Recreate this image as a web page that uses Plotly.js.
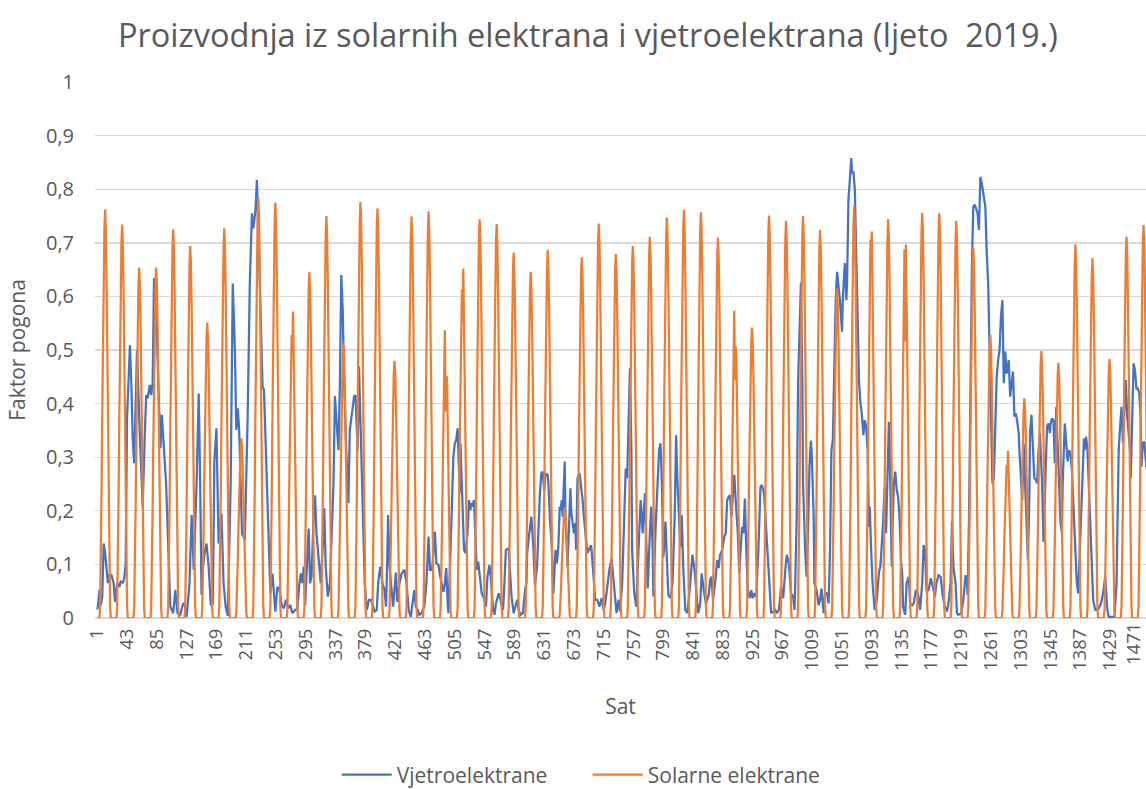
<!DOCTYPE html>
<html>
<head>
<meta charset="utf-8">
<script src="https://cdn.plot.ly/plotly-3.0.1.min.js"></script>
<style>html,body{margin:0;padding:0;background:#fff;}#chart{width:1146px;height:789px;}</style>
</head>
<body>
<div id="chart"></div>
<script>
// ---- Data ----
const xTickVals = [1,43,85,127,169,211,253,295,337,379,421,463,505,547,589,631,673,715,757,799,841,883,925,967,1009,1051,1093,1135,1177,1219,1261,1303,1345,1387,1429,1471];
const xTickText = ["1","43","85","127","169","211","253","295","337","379","421","463","505","547","589","631","673","715","757","799","841","883","925","967","1009","1051","1093","1135","1177","1219","1261","1303","1345","1387","1429","1471"];

// Wind (Vjetroelektrane): hour index and capacity factor at read turning points
const windHour = [1,2,4,6,8,10,12,14,16,18,21,24,26,29,32,34,37,39,41,43,45,47,49,51,53,55,57,60,63,65,68,70,72,75,77,79,81,84,87,89,90,92,95,98,102,104,108,111,114,118,122,124,127,131,134,137,141,144,146,148,150,152,155,158,161,164,166,169,172,176,179,182,185,189,192,195,197,199,201,205,209,213,216,219,221,224,226,228,231,234,236,239,242,245,248,252,255,258,261,264,267,270,273,276,280,283,286,288,290,292,294,297,299,301,303,306,308,310,314,316,319,321,323,326,329,331,334,336,338,341,343,345,347,349,352,355,357,360,363,365,368,370,373,376,378,381,384,387,390,392,395,397,400,403,406,408,409,411,413,416,418,422,424,427,430,434,437,440,443,446,448,450,453,455,458,462,465,468,470,473,477,479,482,484,487,489,491,493,495,496,499,502,503,505,507,509,510,512,513,515,518,520,523,525,527,528,530,532,534,536,538,541,543,546,549,551,554,556,559,561,563,567,569,573,575,577,581,583,585,588,590,593,595,598,601,604,606,607,610,613,616,618,621,623,625,627,629,631,633,636,637,639,642,644,647,649,651,653,654,656,657,660,661,664,666,668,669,671,673,675,676,678,681,683,685,687,690,692,694,697,698,700,703,706,709,712,715,717,720,723,726,728,730,733,736,738,741,744,746,748,750,752,754,755,758,761,764,767,768,770,773,775,777,780,782,784,785,788,791,793,795,797,799,800,802,804,806,809,812,815,817,819,822,823,825,827,830,833,837,840,843,846,848,851,853,856,859,863,865,867,869,872,875,877,879,882,885,887,889,891,893,895,898,899,901,904,906,909,910,912,914,916,918,921,923,925,927,930,933,936,938,941,943,946,948,951,954,957,959,962,965,968,971,973,976,979,982,984,985,987,989,991,993,995,996,999,1001,1003,1005,1007,1008,1011,1012,1015,1018,1020,1022,1025,1027,1030,1032,1034,1036,1038,1040,1042,1044,1046,1048,1051,1052,1054,1055,1057,1058,1060,1062,1064,1065,1067,1069,1071,1073,1075,1077,1079,1081,1083,1085,1087,1089,1090,1092,1094,1097,1100,1103,1105,1108,1111,1113,1115,1117,1119,1121,1122,1124,1126,1128,1130,1132,1134,1136,1137,1140,1142,1145,1147,1150,1152,1155,1158,1161,1164,1166,1168,1170,1173,1176,1179,1182,1184,1187,1190,1193,1196,1199,1201,1204,1206,1208,1211,1213,1215,1219,1222,1225,1227,1228,1230,1232,1234,1236,1238,1240,1242,1244,1246,1248,1250,1251,1253,1255,1257,1259,1261,1263,1265,1267,1269,1271,1273,1275,1277,1279,1281,1283,1284,1286,1288,1290,1292,1294,1296,1298,1300,1301,1303,1305,1307,1309,1311,1313,1315,1316,1318,1320,1322,1324,1326,1328,1330,1331,1333,1335,1337,1340,1342,1344,1345,1347,1349,1351,1353,1355,1357,1359,1361,1362,1365,1367,1369,1371,1373,1375,1377,1378,1380,1382,1384,1387,1390,1392,1393,1395,1397,1399,1401,1403,1405,1408,1410,1413,1416,1419,1422,1425,1427,1431,1435,1438,1440,1441,1443,1445,1447,1449,1451,1453,1455,1457,1458,1460,1462,1464,1466,1468,1470,1472,1473,1475,1477,1480];
const windValue = [.016,.024,.052,.024,.04,.139,.121,.09,.065,.08,.08,.065,.03,.065,.058,.068,.066,.074,.102,.376,.45,.509,.438,.332,.289,.40,.5,.376,.251,.208,.345,.416,.41,.435,.416,.438,.634,.58,.438,.376,.317,.379,.313,.251,.096,.021,.009,.052,.009,.006,.027,.027,.002,.065,.192,.09,.251,.419,.251,.043,.096,.118,.139,.096,.024,.027,.292,.354,.139,.195,.065,.021,.004,.251,.624,.5,.351,.391,.351,.158,.146,.376,.624,.755,.727,.761,.817,.718,.606,.432,.425,.3,.15,.046,.083,.012,.058,.052,.024,.018,.034,.018,.024,.009,.015,.018,.065,.083,.065,.096,.024,.127,.167,.065,.077,.189,.229,.158,.096,.065,.139,.205,.096,.04,.065,.127,.251,.414,.363,.313,.438,.64,.575,.438,.313,.214,.351,.388,.413,.416,.313,.469,.313,.158,.065,.015,.034,.034,.021,.012,.015,.065,.096,.065,.052,.021,.065,.192,.096,.046,.021,.085,.03,.065,.083,.09,.065,.015,.002,.034,.052,.021,.015,.006,.009,.021,.065,.152,.09,.09,.161,.102,.099,.08,.058,.049,.065,.093,.027,.009,.127,.295,.301,.326,.332,.354,.295,.233,.326,.251,.127,.121,.158,.22,.201,.214,.208,.22,.158,.09,.105,.071,.046,.037,.021,.077,.099,.071,.015,.006,.027,.046,.037,.015,.065,.127,.13,.077,.04,.009,.021,.034,.015,.006,.009,.052,.065,.121,.158,.189,.127,.062,.096,.189,.233,.27,.273,.239,.27,.267,.251,.189,.127,.046,.127,.102,.133,.208,.201,.22,.189,.292,.189,.096,.189,.242,.201,.177,.158,.177,.127,.261,.27,.245,.223,.189,.139,.121,.127,.136,.124,.09,.034,.034,.021,.037,.015,.027,.065,.09,.111,.077,.046,.009,.034,.012,.065,.189,.279,.261,.376,.466,.313,.127,.046,.021,.127,.22,.201,.158,.233,.127,.055,.158,.208,.127,.04,.164,.251,.313,.326,.251,.114,.127,.18,.096,.043,.037,.065,.189,.341,.251,.17,.133,.192,.096,.015,.009,.065,.118,.09,.04,.009,.027,.083,.052,.027,.043,.071,.077,.034,.065,.108,.093,.118,.127,.152,.158,.22,.226,.229,.189,.251,.267,.22,.158,.083,.158,.17,.158,.223,.127,.052,.037,.052,.037,.046,.04,.127,.245,.248,.233,.189,.127,.065,.009,.012,.015,.009,.015,.058,.037,.09,.118,.102,.046,.04,.015,.065,.189,.438,.562,.626,.438,.251,.127,.077,.158,.282,.331,.313,.189,.065,.052,.024,.034,.055,.009,.046,.046,.027,.127,.313,.332,.5,.593,.646,.618,.593,.534,.593,.643,.662,.593,.624,.78,.83,.858,.83,.833,.799,.687,.562,.438,.4,.379,.341,.369,.357,.313,.17,.208,.127,.065,.015,.034,.086,.096,.158,.242,.158,.251,.366,.251,.096,.158,.251,.273,.239,.226,.189,.111,.077,.021,.006,.065,.077,.027,.024,.027,.052,.046,.015,.065,.136,.127,.052,.052,.074,.058,.04,.065,.08,.077,.04,.021,.012,.027,.065,.18,.096,.065,.009,.006,.009,.034,.08,.065,.043,.189,.438,.655,.767,.771,.764,.755,.724,.823,.811,.795,.786,.767,.68,.624,.5,.345,.251,.261,.376,.45,.481,.5,.562,.593,.438,.497,.456,.463,.481,.413,.438,.46,.376,.382,.366,.345,.313,.251,.22,.326,.251,.158,.108,.22,.345,.379,.313,.261,.258,.251,.313,.345,.313,.251,.142,.22,.357,.363,.345,.363,.372,.369,.289,.394,.313,.22,.177,.158,.251,.363,.332,.292,.313,.307,.276,.22,.189,.127,.065,.046,.158,.282,.335,.313,.338,.313,.251,.158,.096,.034,.015,.015,.018,.027,.046,.077,.015,.002,.002,.002,.065,.189,.313,.357,.394,.326,.376,.444,.376,.345,.313,.261,.376,.475,.462,.428,.428,.419,.376,.282,.326,.329,.282];

// Solar (Solarne elektrane): daily peak capacity factor, one per day (62 days)
const solarDailyPeak = [0.762,0.734,0.654,0.654,0.725,0.694,0.551,0.727,0.335,0.785,
  0.775,0.572,0.645,0.75,0.512,0.776,0.764,0.48,0.749,0.759,
  0.537,0.652,0.744,0.735,0.682,0.646,0.687,0.206,0.673,0.736,
  0.679,0.694,0.711,0.747,0.761,0.757,0.71,0.573,0.542,0.751,
  0.741,0.75,0.724,0.615,0.769,0.721,0.744,0.697,0.756,0.755,
  0.741,0.691,0.529,0.312,0.41,0.498,0.476,0.697,0.671,0.483,
  0.711,0.733];
// Days whose midday curve has a visible notch: [day, value before notch, notch, value after notch]
const solarNotchDay = [11, 20, 21, 37, 45, 47, 53];
const solarNotchBefore = [0.528, 0.537, 0.613, 0.573, 0.705, 0.688, 0.285];
const solarNotchDip = [0.497, 0.40, 0.553, 0.444, 0.69, 0.516, 0.27];
const solarNotchAfter = [0.572, 0.385, 0.652, 0.507, 0.721, 0.697, 0.312];
// Shape of one sunny day relative to its peak (hours -8 .. +8 around midday)
const solarDayShape = [0, 0.03, 0.14, 0.31, 0.5, 0.68, 0.84, 0.95, 1, 0.95, 0.84, 0.68, 0.5, 0.31, 0.14, 0.03, 0];

// ---- Build solar trace from the day peaks ----
const solarX = [1], solarY = [0];
solarDailyPeak.forEach(function(peak, d){
  const mid = 24 * d + 12;
  const ni = solarNotchDay.indexOf(d);
  for (let k = -8; k <= 8; k++) {
    let v = peak * solarDayShape[k + 8];
    if (ni >= 0) {
      if (k === -1) v = solarNotchBefore[ni];
      else if (k === 0) v = solarNotchDip[ni];
      else if (k === 1) v = solarNotchAfter[ni];
    }
    solarX.push(mid + k);
    solarY.push(v);
  }
});

const grey = '#595959';
const fontFam = '"Open Sans", "Noto Sans", sans-serif';
const tickFontSize = 18.5;

// the last tick label sits at the right edge of the picture; it is drawn as an
// annotation nudged slightly left so it is not cut off
const axisTickVals = xTickVals.slice(0, -1);
const axisTickText = xTickText.slice(0, -1);
const edgeTickVal = xTickVals[xTickVals.length - 1];
const edgeTickText = xTickText[xTickText.length - 1];

const traces = [
  {x: windHour, y: windValue, type: 'scatter', mode: 'lines', name: 'Vjetroelektrane',
   line: {color: '#4472C4', width: 2.25}},
  {x: solarX, y: solarY, type: 'scatter', mode: 'lines', name: 'Solarne elektrane',
   line: {color: '#ED7D31', width: 2.25}}
];

const layout = {
  width: 1146, height: 789,
  margin: {l: 95, r: 0, t: 82, b: 171, pad: 0, autoexpand: false},
  paper_bgcolor: '#ffffff', plot_bgcolor: '#ffffff',
  separators: ', ',
  font: {family: fontFam, color: grey, size: 20},
  title: {text: 'Proizvodnja iz solarnih elektrana i vjetroelektrana (ljeto\u00a0 2019.)',
          font: {family: fontFam, size: 32.5, color: grey},
          x: 0.513, xref: 'container', xanchor: 'center',
          y: 0.955, yref: 'container', yanchor: 'middle'},
  xaxis: {
    range: [-2.24, 1479.5], tickmode: 'array', tickvals: axisTickVals, ticktext: axisTickText,
    tickangle: -90, showgrid: false, zeroline: false, showline: false, ticks: '',
    tickfont: {size: tickFontSize, color: grey}, ticklabelstandoff: 6, ticklabeloverflow: 'allow',
    automargin: false,
    title: {text: 'Sat', font: {size: 21, color: grey}, standoff: 29}
  },
  yaxis: {
    range: [0, 1], tickmode: 'linear', tick0: 0, dtick: 0.1,
    showgrid: true, gridcolor: '#d9d9d9', gridwidth: 1.4,
    zeroline: true, zerolinecolor: '#d9d9d9', zerolinewidth: 1.4,
    showline: false, ticks: '', tickfont: {size: 20, color: grey},
    ticklabelstandoff: 20, automargin: false,
    title: {text: 'Faktor pogona', font: {size: 21, color: grey}, standoff: 14}
  },
  annotations: [{
    x: edgeTickVal, xref: 'x', y: 0, yref: 'y', text: edgeTickText,
    textangle: -90, showarrow: false, xanchor: 'center', yanchor: 'top',
    xshift: -8, yshift: -4, borderpad: 0,
    font: {family: fontFam, size: tickFontSize, color: grey}
  }],
  showlegend: true,
  legend: {orientation: 'h', x: 0.230, xanchor: 'left', y: -0.293, yanchor: 'middle',
           font: {size: 21, color: grey}, itemwidth: 50, traceorder: 'normal',
           entrywidth: 186, entrywidthmode: 'pixels',
           bgcolor: 'rgba(0,0,0,0)'}
};

Plotly.newPlot('chart', traces, layout, {displayModeBar: false, staticPlot: true});
</script>
</body>
</html>
